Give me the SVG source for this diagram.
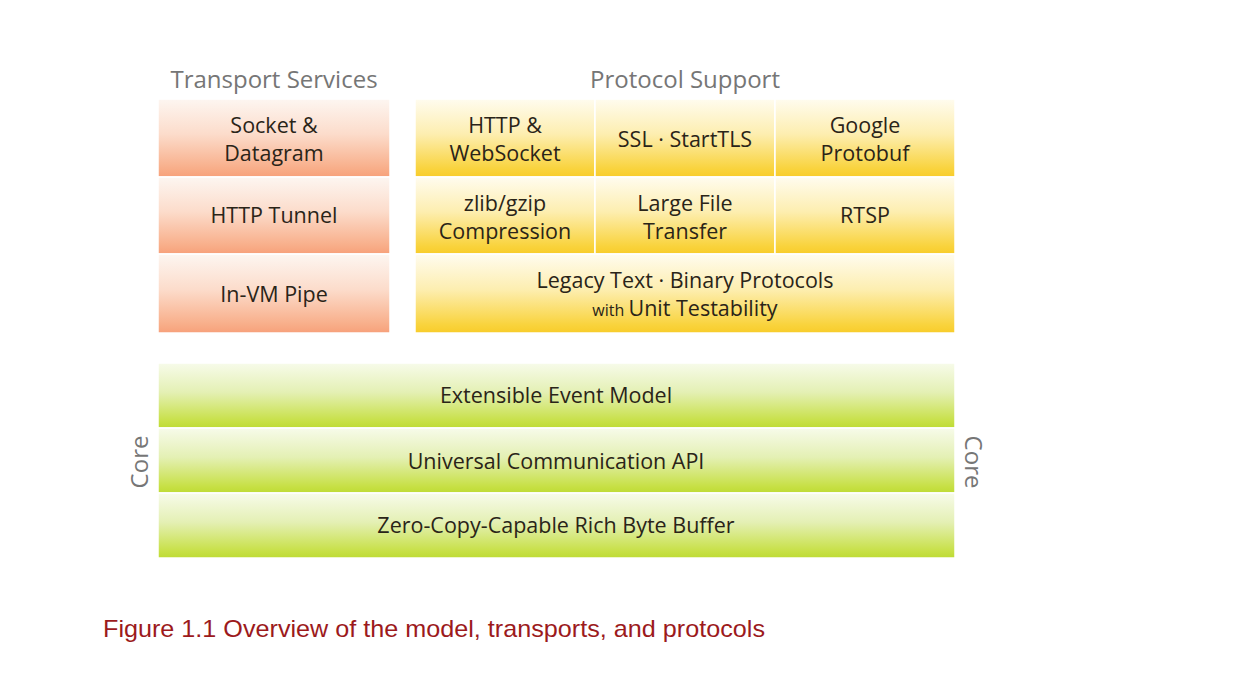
<svg xmlns="http://www.w3.org/2000/svg" width="1240" height="686" viewBox="0 0 1240 686">
<defs>
<linearGradient id="gOrange" x1="0" y1="0" x2="0" y2="1">
<stop offset="0" stop-color="#fdf6f1"/>
<stop offset="0.45" stop-color="#fcdccb"/>
<stop offset="0.9" stop-color="#f8ad88"/>
<stop offset="1" stop-color="#f7a07a"/>
</linearGradient>
<linearGradient id="gYellow" x1="0" y1="0" x2="0" y2="1">
<stop offset="0" stop-color="#fffcef"/>
<stop offset="0.45" stop-color="#fdeeb0"/>
<stop offset="0.9" stop-color="#f9d33c"/>
<stop offset="1" stop-color="#f8cc2a"/>
</linearGradient>
<linearGradient id="gGreen" x1="0" y1="0" x2="0" y2="1">
<stop offset="0" stop-color="#f7fbea"/>
<stop offset="0.45" stop-color="#e4f0b4"/>
<stop offset="0.9" stop-color="#c7e045"/>
<stop offset="1" stop-color="#bedb34"/>
</linearGradient>
</defs>
<style>
.t{font-family:"Open Sans","DejaVu Sans",sans-serif;font-size:21.5px;fill:#2a2418;text-anchor:middle}
.h{font-family:"Open Sans","DejaVu Sans",sans-serif;font-size:24px;fill:#767676;text-anchor:middle}
.o{fill:url(#gOrange);stroke:#ffffff;stroke-width:1.5}
.y{fill:url(#gYellow);stroke:#ffffff;stroke-width:1.5}
.g{fill:url(#gGreen);stroke:#ffffff;stroke-width:1.5}
.s{font-size:16px}
.cap{font-family:"Liberation Sans",Arial,sans-serif;font-size:24px;fill:#9c1a1c}
</style>
<rect width="1240" height="686" fill="#ffffff"/>
<g id="headers">
<text class="h" x="274" y="88">Transport Services</text>
<text class="h" x="685" y="88">Protocol Support</text>
</g>
<g id="transport-socket"><rect class="o" x="158" y="99" width="232" height="78"/><text class="t" x="274" y="133">Socket &amp;</text><text class="t" x="274" y="161">Datagram</text></g>
<g id="transport-http"><rect class="o" x="158" y="177" width="232" height="77"/><text class="t" x="274" y="223">HTTP Tunnel</text></g>
<g id="transport-invm"><rect class="o" x="158" y="254" width="232" height="79"/><text class="t" x="274" y="302">In-VM Pipe</text></g>
<g id="proto-http"><rect class="y" x="415" y="99" width="180" height="78"/><text class="t" x="505" y="133">HTTP &amp;</text><text class="t" x="505" y="161">WebSocket</text></g>
<g id="proto-ssl"><rect class="y" x="595" y="99" width="180" height="78"/><text class="t" x="685" y="147">SSL · StartTLS</text></g>
<g id="proto-protobuf"><rect class="y" x="775" y="99" width="180" height="78"/><text class="t" x="865" y="133">Google</text><text class="t" x="865" y="161">Protobuf</text></g>
<g id="proto-zlib"><rect class="y" x="415" y="177" width="180" height="77"/><text class="t" x="505" y="211">zlib/gzip</text><text class="t" x="505" y="239">Compression</text></g>
<g id="proto-large"><rect class="y" x="595" y="177" width="180" height="77"/><text class="t" x="685" y="211">Large File</text><text class="t" x="685" y="239">Transfer</text></g>
<g id="proto-rtsp"><rect class="y" x="775" y="177" width="180" height="77"/><text class="t" x="865" y="223">RTSP</text></g>
<g id="proto-legacy"><rect class="y" x="415" y="254" width="540" height="79"/><text class="t" x="685" y="288">Legacy Text · Binary Protocols</text><text class="t" x="685" y="316"><tspan class="s">with </tspan>Unit Testability</text></g>
<g id="core-event"><rect class="g" x="158" y="363" width="797" height="65"/><text class="t" x="556" y="403">Extensible Event Model</text></g>
<g id="core-api"><rect class="g" x="158" y="428" width="797" height="65"/><text class="t" x="556" y="469">Universal Communication API</text></g>
<g id="core-buffer"><rect class="g" x="158" y="493" width="797" height="65"/><text class="t" x="556" y="533">Zero-Copy-Capable Rich Byte Buffer</text></g>
<g id="core-labels">
<text class="h" transform="translate(148,462) rotate(-90)">Core</text>
<text class="h" transform="translate(965,462) rotate(90)">Core</text>
</g>
<g id="connectors"></g>
<text class="cap" x="103" y="637" textLength="662" lengthAdjust="spacingAndGlyphs">Figure 1.1 Overview of the model, transports, and protocols</text>
</svg>
